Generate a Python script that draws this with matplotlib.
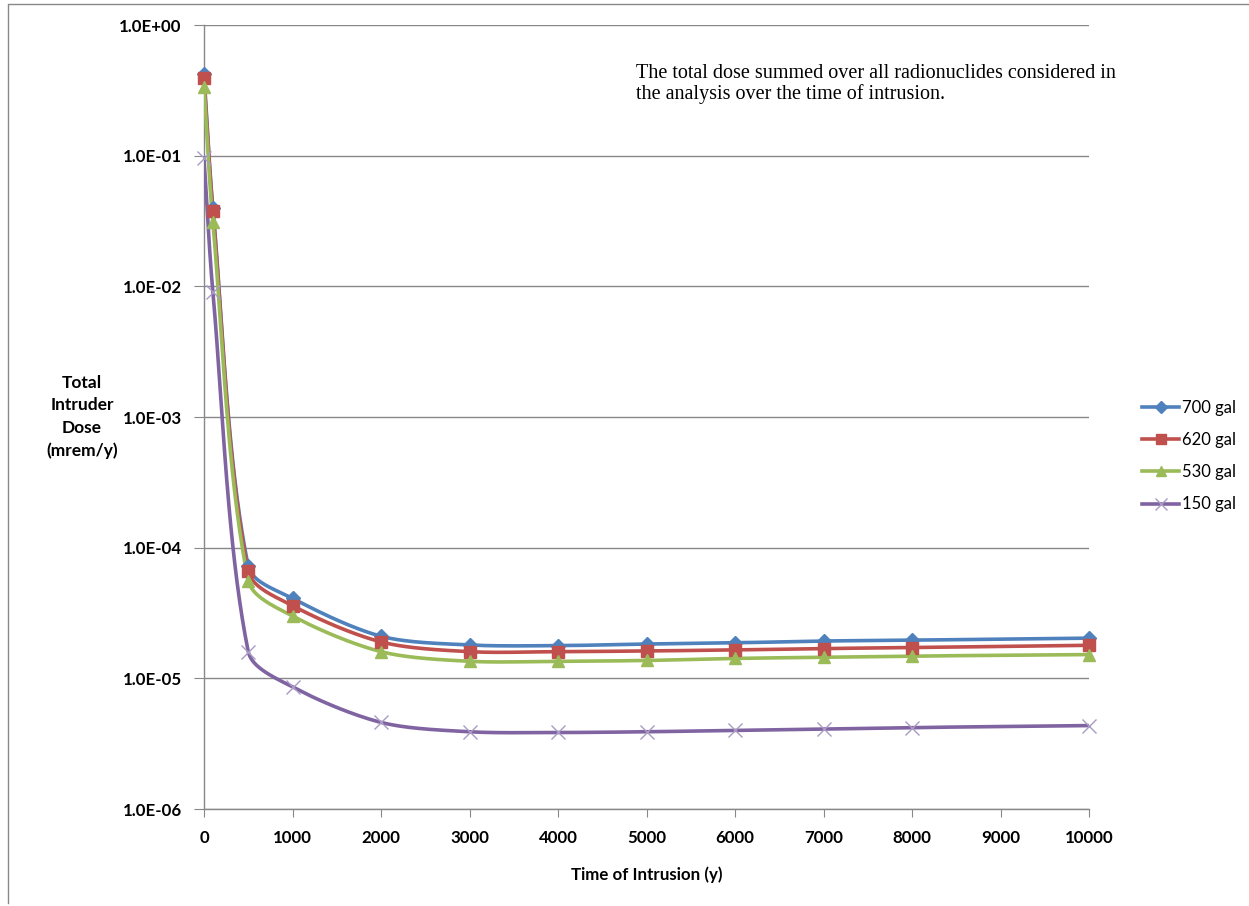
import numpy as np
import matplotlib
matplotlib.use("Agg")
import matplotlib.pyplot as plt
from matplotlib.lines import Line2D

# ---- data ----
years = [0, 100, 500, 1000, 2000, 3000, 4000, 5000, 6000, 7000, 8000, 10000]
dose_700 = [0.42, 0.040, 7.2e-5, 4.1e-5, 2.1e-5, 1.80e-5, 1.78e-5, 1.83e-5, 1.87e-5, 1.93e-5, 1.96e-5, 2.03e-5]
dose_620 = [0.39, 0.038, 6.6e-5, 3.6e-5, 1.9e-5, 1.60e-5, 1.60e-5, 1.62e-5, 1.65e-5, 1.69e-5, 1.72e-5, 1.79e-5]
dose_530 = [0.335, 0.031, 5.6e-5, 3.0e-5, 1.6e-5, 1.35e-5, 1.35e-5, 1.37e-5, 1.42e-5, 1.45e-5, 1.48e-5, 1.52e-5]
dose_150 = [0.096, 0.0091, 1.6e-5, 8.6e-6, 4.6e-6, 3.9e-6, 3.85e-6, 3.9e-6, 4.0e-6, 4.1e-6, 4.2e-6, 4.35e-6]
series_labels = ["700 gal", "620 gal", "530 gal", "150 gal"]
y_ticks = [1e-6, 1e-5, 1e-4, 1e-3, 1e-2, 1e-1, 1e0]
y_tick_labels = ["1.0E-06", "1.0E-05", "1.0E-04", "1.0E-03", "1.0E-02", "1.0E-01", "1.0E+00"]
x_ticks = [0, 1000, 2000, 3000, 4000, 5000, 6000, 7000, 8000, 9000, 10000]

colors = ["#4F81BD", "#C0504D", "#9BBB59", "#8064A2"]
markers = ["D", "s", "^", "x"]
msizes = [7, 9, 9, 10]

W, H = 1249, 906
fig = plt.figure(figsize=(W / 100, H / 100), dpi=100)
ax = fig.add_axes([204 / W, 1 - 809 / H, 885 / W, 784 / H])

ax.set_yscale("log")
ax.set_xlim(0, 10000)
ax.set_ylim(1e-6, 1e0)

XS, YS = 885.0, 130.7  # display scale: px per 10000 years, px per decade


def smooth(xs, ys, n=40, k=0.3):
    # parametric Bezier spline in display space; tangent direction from
    # neighbours, handle length proportional to the segment's own length
    sx = np.asarray(xs, float) / 10000.0 * XS
    sy = np.log10(np.asarray(ys, float)) * YS
    P = np.column_stack([sx, sy])
    m = len(P)
    T = np.zeros_like(P)
    for i in range(m):
        a = P[max(i - 1, 0)]
        b = P[min(i + 1, m - 1)]
        d = b - a
        T[i] = d / np.linalg.norm(d)
    out = []
    t = np.linspace(0, 1, n)[:, None]
    for i in range(m - 1):
        p1, p2 = P[i], P[i + 1]
        L = np.linalg.norm(p2 - p1)
        c1 = p1 + T[i] * k * L
        c2 = p2 - T[i + 1] * k * L
        seg = ((1 - t) ** 3) * p1 + 3 * ((1 - t) ** 2) * t * c1 + 3 * (1 - t) * t ** 2 * c2 + t ** 3 * p2
        out.append(seg if i == 0 else seg[1:])
    out = np.vstack(out)
    return out[:, 0] / XS * 10000.0, 10 ** (out[:, 1] / YS)


all_series = [dose_700, dose_620, dose_530, dose_150]
handles = []
for vals, col, mk, ms, lab in zip(all_series, colors, markers, msizes, series_labels):
    sx, sy = smooth(years, vals)
    ax.plot(sx, sy, color=col, lw=2.6, zorder=3, solid_capstyle="round")
    if mk == "x":
        ax.plot(years, vals, linestyle="none", marker="x", ms=ms, mew=1.0,
                color="#A99BC4", zorder=4, clip_on=False)
    else:
        ax.plot(years, vals, linestyle="none", marker=mk, ms=ms, color=col,
                zorder=4, clip_on=False)
    h = Line2D([], [], color=col, lw=2.6, marker=mk, ms=ms * 0.85, mew=1.0,
               markeredgecolor="#A99BC4" if mk == "x" else col, label=lab)
    handles.append(h)

ax.set_yticks(y_ticks)
ax.set_yticklabels(y_tick_labels)
ax.yaxis.set_minor_locator(matplotlib.ticker.NullLocator())
ax.set_xticks(x_ticks)
ax.set_xticklabels([str(v) for v in x_ticks])
ax.grid(axis="y", which="major", color="#888888", lw=1.0)
ax.set_axisbelow(True)
for s in ["top", "right"]:
    ax.spines[s].set_visible(False)
for s in ["left", "bottom"]:
    ax.spines[s].set_color("#888888")
    ax.spines[s].set_linewidth(1.0)
ax.tick_params(axis="y", direction="out", length=7, color="#888888", pad=9)
ax.tick_params(axis="x", direction="out", length=6, color="#888888", pad=9)
for lbl in ax.get_yticklabels() + ax.get_xticklabels():
    lbl.set_fontfamily("Lato")
    lbl.set_fontweight("bold")
    lbl.set_fontsize(12.2)

ax.set_xlabel("Time of Intrusion (y)", fontfamily="Lato", fontweight="bold",
              fontsize=12.2, labelpad=15)
fig.text(82 / W, 1 - 417 / H, "Total\nIntruder\nDose\n(mrem/y)", ha="center",
         va="center", fontfamily="Lato", fontweight="bold", fontsize=12.5,
         linespacing=1.5)

fig.text(636 / W, 1 - 64 / H,
         "The total dose summed over all radionuclides considered in\nthe analysis over the time of intrusion.",
         ha="left", va="top", fontfamily="Liberation Serif", fontsize=14.5,
         linespacing=1.1)

fig.legend(handles=handles, loc="center left",
           bbox_to_anchor=(1134 / W, 1 - 456 / H), frameon=False,
           prop={"family": "Lato", "size": 12}, handlelength=2.2,
           handletextpad=0.2, labelspacing=0.98, borderpad=0.0)

# chart-area border (top and left edges visible)
fig.add_artist(Line2D([8 / W, 8 / W, 1.0], [1 - 903 / H, 1 - 4 / H, 1 - 4 / H],
                      transform=fig.transFigure, color="#888888", lw=1.0))

fig.savefig("out.png", dpi=100, facecolor="white")
